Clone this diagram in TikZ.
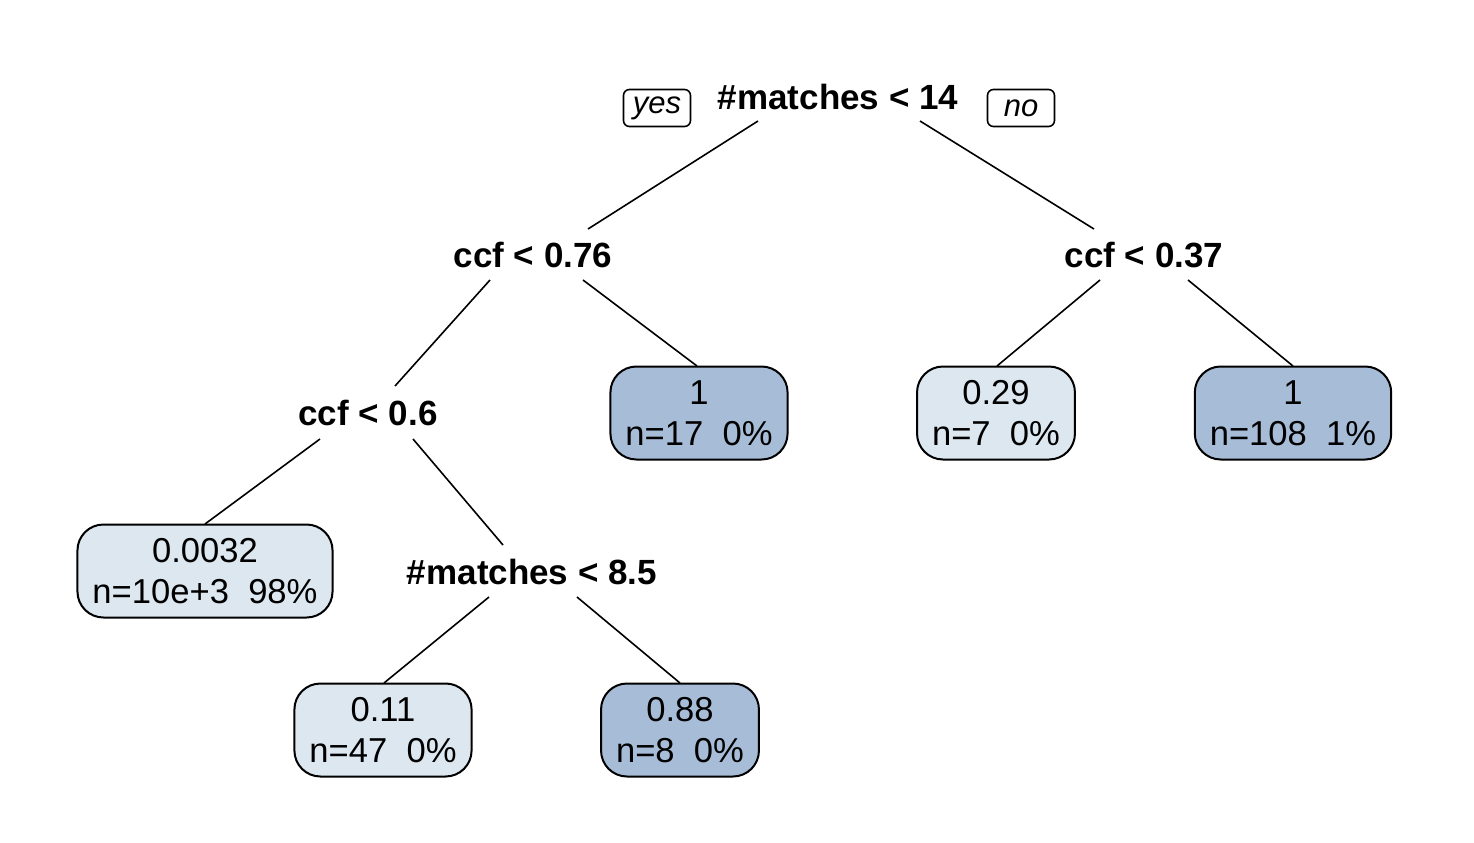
\documentclass[tikz,border=0pt]{standalone}
\usepackage{fontspec}
\setmainfont{Liberation Sans}
\usepackage{tikz}
\usetikzlibrary{calc,shapes}

\definecolor{lightleaf}{RGB}{220,231,240}
\definecolor{darkleaf}{RGB}{167,188,215}

\begin{document}
\begin{tikzpicture}[x=0.5pt, y=-0.5pt]
		\tikzstyle{split} = [font=\bfseries\fontsize{17.5}{20}\selectfont, inner sep=0pt]
		\tikzstyle{leaf} = [draw, line width=1pt, rounded corners=13pt, align=center,
			font=\fontsize{17.3}{20.5}\selectfont, inner xsep=7.5pt, minimum height=46.5pt]
		\tikzstyle{answer} = [draw, line width=0.8pt, rounded corners=3pt, inner sep=0pt,
			font=\itshape\fontsize{15.5}{17}\selectfont, minimum width=33.5pt, minimum height=18.5pt]
		\useasboundingbox (0,0) rectangle (1474,842);
		% split labels
		\node[split] (root) at (838, 97) {\#matches < 14};
		\node[split] (ccfa) at (533, 255) {ccf < 0.76};
		\node[split] (ccfb) at (1144, 255) {ccf < 0.37};
		\node[split] (ccfc) at (368, 413) {ccf < 0.6};
		\node[split] (matches) at (532, 572) {\#matches < 8.5};
		\node[answer] (yes) at (657, 108) {yes};
		\node[answer] (no) at (1021, 108) {no};
		% leaves
		\node[leaf, fill=darkleaf] (leafa) at (699, 413) {1\\n=17\ \ 0\%};
		\node[leaf, fill=lightleaf] (leafb) at (996, 413) {0.29\\n=7\ \ 0\%};
		\node[leaf, fill=darkleaf] (leafc) at (1293, 413) {1\\n=108\ \ 1\%};
		\node[leaf, fill=lightleaf] (leafd) at (205, 571) {0.0032\\n=10e+3\ \ 98\%};
		\node[leaf, fill=lightleaf] (leafe) at (383, 730) {0.11\\n=47\ \ 0\%};
		\node[leaf, fill=darkleaf] (leaff) at (680, 730) {0.88\\n=8\ \ 0\%};
		\foreach \from/\fx/\fy/\to/\tx/\ty in {root/-80/24/ccfa/55/-26, root/82/24/ccfb/-50/-26,
			ccfa/-43/25/ccfc/27/-27, ccfa/50/25/leafa/-2/-47, ccfb/-44/25/leafb/1/-47,
			ccfb/44/25/leafc/0/-47, ccfc/-48/26/leafd/0/-47, ccfc/45/26/matches/-29/-27,
			matches/-43/25/leafe/1/-47, matches/45/25/leaff/0/-47}
		\draw [line width=0.8pt] ($(\from)+(\fx,\fy)$) -- ($(\to)+(\tx,\ty)$);
	\end{tikzpicture}
\end{document}
